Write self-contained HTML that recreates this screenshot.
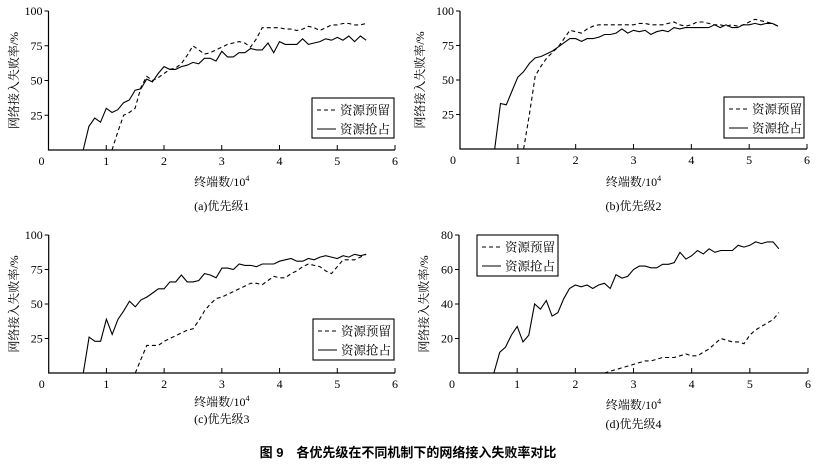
<!DOCTYPE html>
<html><head><meta charset="utf-8">
<style>
body{margin:0;background:#fff;}
svg text{font-family:"Liberation Serif","Noto Serif CJK SC",serif;fill:#000;}
</style></head>
<body>
<svg id="fig" width="817" height="467" xmlns="http://www.w3.org/2000/svg">
<text x="408" y="457" text-anchor="middle" font-size="13" font-weight="bold" style="font-family:'Liberation Sans','Noto Sans CJK SC',sans-serif">图 9　各优先级在不同机制下的网络接入失败率对比</text>
</svg>
<script>
const xsA = [0.6,0.7,0.8,0.9,1.0,1.1,1.2,1.3,1.4,1.5,1.6,1.7,1.8,1.9,2.0,2.1,2.2,2.3,2.4,2.5,2.6,2.7,2.8,2.9,3.0,3.1,3.2,3.3,3.4,3.5,3.6,3.7,3.8,3.9,4.0,4.1,4.2,4.3,4.4,4.5,4.6,4.7,4.8,4.9,5.0,5.1,5.2,5.3,5.4,5.5];
const p1Solid = [0,17,23,20,30,27,29,34,36,43,44,51,49,55,60,58,58,60,61,63,62,66,66,64,71,67,67,70,70,73,72,72,77,70,78,76,76,76,80,76,77,78,80,79,81,79,82,78,82,79];
const p1DashX = [1.1,1.2,1.3,1.4,1.5,1.6,1.7,1.8,1.9,2.0,2.1,2.2,2.3,2.4,2.5,2.6,2.7,2.8,2.9,3.0,3.1,3.2,3.3,3.4,3.5,3.6,3.7,3.8,3.9,4.0,4.1,4.2,4.3,4.4,4.5,4.6,4.7,4.8,4.9,5.0,5.1,5.2,5.3,5.4,5.5];
const p1Dash = [0,13,25,27,30,45,53,50,52,55,58,59,62,68,75,72,69,70,72,74,76,77,78,77,74,80,88,88,88,88,87,87,86,87,89,88,86,88,90,90,91,91,90,90,91];
const p2Solid = [0,33,32,42,52,56,62,66,67,69,71,74,77,80,80,78,80,80,81,83,83,84,87,84,86,85,86,83,85,86,85,88,87,88,88,88,88,88,90,88,90,88,88,90,90,91,90,91,91,89];
const p2DashX = p1DashX;
const p2Dash = [0,25,53,60,66,70,74,80,86,85,84,87,89,90,90,90,90,90,90,90,91,91,90,90,90,91,92,90,89,90,92,92,91,90,90,89,90,89,90,92,94,93,92,91,89];
const p3Solid = [0,26,23,23,39,28,39,45,52,48,53,55,58,61,61,66,66,71,66,66,67,72,71,69,76,76,75,79,78,78,77,79,79,79,81,82,83,81,81,83,82,84,85,84,83,85,84,86,85,86];
const p3DashX = [1.5,1.6,1.7,1.8,1.9,2.0,2.1,2.2,2.3,2.4,2.5,2.6,2.7,2.8,2.9,3.0,3.1,3.2,3.3,3.4,3.5,3.6,3.7,3.8,3.9,4.0,4.1,4.2,4.3,4.4,4.5,4.6,4.7,4.8,4.9,5.0,5.1,5.2,5.3,5.4,5.5];
const p3Dash = [0,10,20,20,20,23,25,27,29,31,32,38,45,50,54,55,57,59,61,63,65,65,64,67,70,69,69,72,74,77,79,78,77,74,72,77,82,82,82,84,86];
const p4Solid = [0,12,15,22,27,18,22,40,37,42,33,35,43,49,51,50,51,49,51,52,49,57,55,56,60,62,62,61,61,63,63,64,70,66,68,71,69,72,70,71,71,71,74,73,74,76,75,76,76,72];
const p4DashX = [2.5,2.6,2.7,2.8,2.9,3.0,3.1,3.2,3.3,3.4,3.5,3.6,3.7,3.8,3.9,4.0,4.1,4.2,4.3,4.4,4.5,4.6,4.7,4.8,4.9,5.0,5.1,5.2,5.3,5.4,5.5];
const p4Dash = [0,1,2,3,4,5,6,7,7,8,9,9,9,10,11,10,10,12,14,17,20,19,18,18,17,22,25,27,29,31,35];
const xTicks = [1,2,3,4,5,6];
const yTicks100 = [25,50,75,100];
const yTicks80 = [20,40,60,80];
const legendLabels = ["资源预留","资源抢占"];

const NS="http://www.w3.org/2000/svg";
const svg=document.getElementById('fig');
function mk(tag,attrs,parent){const e=document.createElementNS(NS,tag);for(const k in attrs)e.setAttribute(k,attrs[k]);(parent||svg).appendChild(e);return e;}

function panel(cfg){
  const g=mk('g',{});
  
  
  const sx=v=>cfg.x0+(cfg.x1-cfg.x0)*v/6;
  const sy=v=>cfg.y0-(cfg.y0-cfg.yT)*v/cfg.ymax;
  const ax=mk('path',{d:`M${cfg.x0} ${cfg.yT}V${cfg.y0}H${cfg.x1}`,stroke:'#000','stroke-width':1.2,fill:'none'},g);
  
  
  for(const t of cfg.yTicks){
    mk('line',{x1:cfg.x0-4,x2:cfg.x0,y1:sy(t),y2:sy(t),stroke:'#000'},g);
    const tx=mk('text',{x:cfg.x0-6,y:sy(t)+4,'text-anchor':'end','font-size':12},g);
    tx.textContent=t;
    
    
  }
  const z=mk('text',{x:cfg.x0-7,y:cfg.y0+15,'text-anchor':'middle','font-size':12},g);z.textContent='0';
  
  
  for(const t of xTicks){
    mk('line',{x1:sx(t),x2:sx(t),y1:cfg.y0,y2:cfg.y0-5,stroke:'#000'},g);
    const tx=mk('text',{x:sx(t),y:cfg.y0+15,'text-anchor':'middle','font-size':12},g);
    tx.textContent=t;
    
    
  }
  const line=(xs,ys,dash,nm)=>{
    const d=xs.map((x,i)=>(i?'L':'M')+sx(x).toFixed(1)+' '+sy(ys[i]).toFixed(1)).join('');
    const p=mk('path',{d,stroke:'#000','stroke-width':1.1,fill:'none','stroke-dasharray':dash?'4 3':'none'},g);
    
    
  };
  line(cfg.dx,cfg.dy,true,'reservation-line');
  line(xsA,cfg.sy,false,'preemption-line');
  const L=cfg.leg;
  const lb=mk('rect',{x:L[0],y:L[1],width:L[2],height:L[3],fill:'#fff',stroke:'#000','stroke-width':1.1},g);
  
  
  legendLabels.forEach((lab,i)=>{
    const yy=L[1]+12+i*19;
    mk('line',{x1:L[0]+5,x2:L[0]+24,y1:yy,y2:yy,stroke:'#000','stroke-dasharray':i?'none':'4 3'},g);
    const tx=mk('text',{x:L[0]+28,y:yy+4.5,'font-size':12.5},g);
    tx.textContent=lab;
    
    
  });
  const cy=(cfg.yT+cfg.y0)/2;
  const yl=mk('text',{x:cfg.ylx,y:cy,'text-anchor':'middle','font-size':12,transform:`rotate(-90 ${cfg.ylx} ${cy})`},g);
  yl.textContent='网络接入失败率/%';
  
  
  const xl=mk('text',{x:(cfg.x0+cfg.x1)/2,y:cfg.xly,'text-anchor':'middle','font-size':12},g);
  xl.innerHTML='终端数/10<tspan dy="-5" font-size="8">4</tspan>';
  
  
  const cp=mk('text',{x:(cfg.x0+cfg.x1)/2,y:cfg.cpy,'text-anchor':'middle','font-size':12},g);
  cp.textContent=cfg.caption;
  
  
}
panel({name:'panel-a',x0:48.5,x1:395,yT:11,y0:150,ymax:100,yTicks:yTicks100,sy:p1Solid,dx:p1DashX,dy:p1Dash,leg:[312,98,82,40],ylx:18,xly:186,cpy:210,caption:'(a)优先级1'});
panel({name:'panel-b',x0:460,x1:807,yT:11,y0:149,ymax:100,yTicks:yTicks100,sy:p2Solid,dx:p2DashX,dy:p2Dash,leg:[724,97,80,41],ylx:424,xly:186,cpy:210,caption:'(b)优先级2'});
panel({name:'panel-c',x0:48.7,x1:395,yT:235,y0:373,ymax:100,yTicks:yTicks100,sy:p3Solid,dx:p3DashX,dy:p3Dash,leg:[313,319,81,41],ylx:18,xly:406,cpy:423,caption:'(c)优先级3'});
panel({name:'panel-d',x0:459,x1:808,yT:235,y0:373,ymax:80,yTicks:yTicks80,sy:p4Solid,dx:p4DashX,dy:p4Dash,leg:[477,235,81,41],ylx:428,xly:409,cpy:428,caption:'(d)优先级4'});
</script>
</body></html>
